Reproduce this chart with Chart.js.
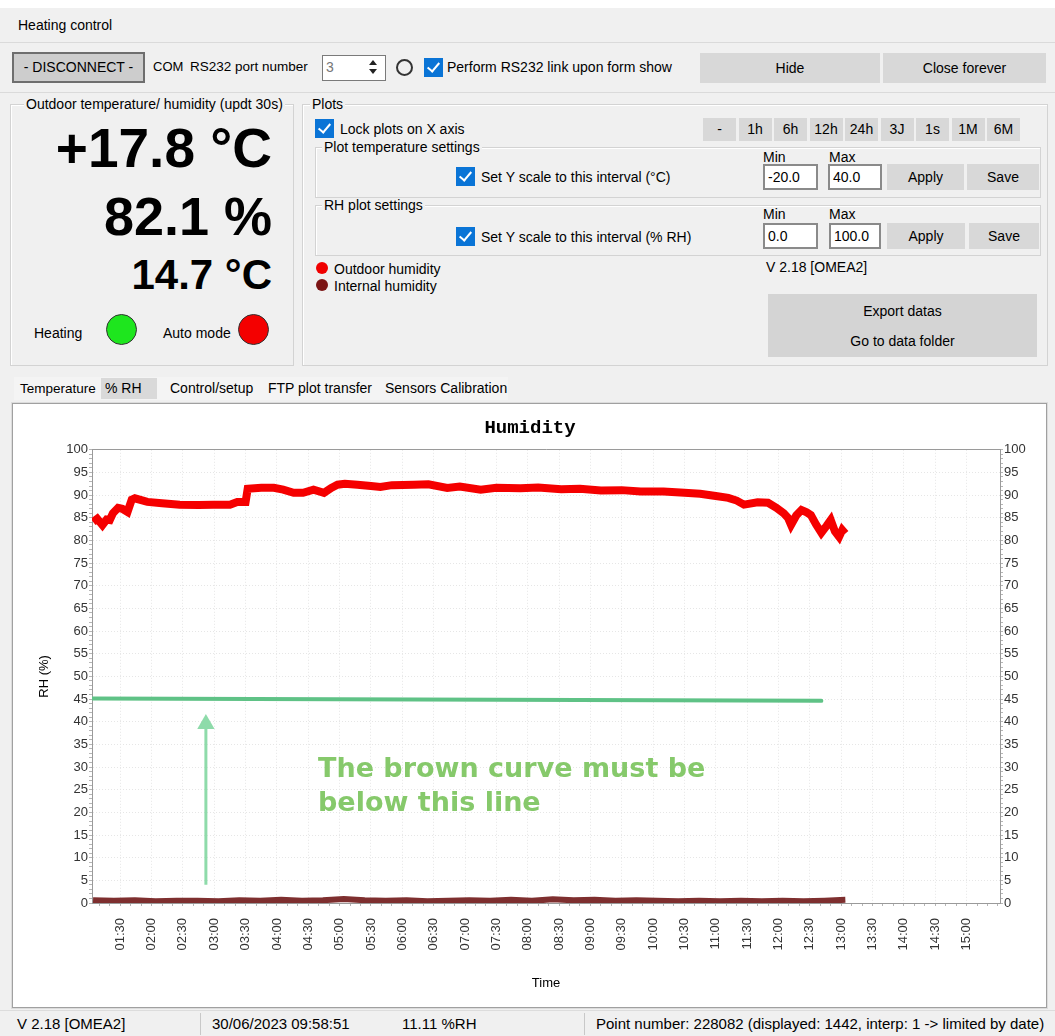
<!DOCTYPE html>
<html>
<head>
<meta charset="utf-8">
<title>Heating control</title>
<script src="https://cdn.jsdelivr.net/npm/chart.js@4.4.1/dist/chart.umd.min.js"></script>
<style>
  html, body { margin: 0; padding: 0; }
  body { background: #f0f0f0; font-family: 'Liberation Sans', Arial, sans-serif; font-size: 14px; color: #000; }
  #app { position: relative; width: 1055px; height: 1036px; overflow: hidden; }
  .abs { position: absolute; white-space: nowrap; }
  .lbl { position: absolute; white-space: nowrap; line-height: 16px; }
  .btn { position: absolute; background: #d8d8d8; text-align: center; }
  .grp { position: absolute; border: 1px solid #d3d3d3; box-shadow: inset 1px 1px 0 #fff; }
  .grp-title { position: absolute; background: #f0f0f0; padding: 0 2px; line-height: 14px; white-space: nowrap; }
  .chk { position: absolute; width: 19px; height: 19px; background: #0a74d6; }
  .chk::after { content: ''; position: absolute; left: 6px; top: 2px; width: 5px; height: 10px;
                border-right: 2px solid #fff; border-bottom: 2px solid #fff; transform: rotate(40deg); }
  .inp { position: absolute; background: #fff; border: 2px solid #8a8a8a; box-sizing: border-box; padding-left: 3px; line-height: 22px; }
  .big { position: absolute; left: 10px; width: 262px; text-align: right; font-weight: bold; line-height: 1; }
  .dot { position: absolute; border-radius: 50%; }
  .tab { position: absolute; top: 378px; height: 21px; line-height: 21px; padding: 0 4px; }
  #chartBox { position: absolute; left: 12px; top: 403px; width: 1033px; height: 603px; background: #fff;
              border: 1px solid #a0a0a0; box-shadow: 0 0 0 1px #dcdcdc; }
  #chartCanvas { position: absolute; left: 1px; top: 1px; }
  .note { position: absolute; left: 318px; top: 751px; font-family: 'DejaVu Sans', Verdana, sans-serif;
          font-weight: bold; font-size: 27px; line-height: 34px; color: #86c96b; }
  .status { position: absolute; top: 1015px; font-size: 15px; line-height: 18px; white-space: nowrap; }
</style>
</head>
<body>
<div id="app">
  <!-- window header -->
  <div class="abs" style="left:0;top:0;width:1055px;height:8px;background:#fff;"></div>
  <div class="lbl" style="left:18px;top:17px;">Heating control</div>
  <div class="abs" style="left:0;top:42px;width:1055px;height:1px;background:#dadada;"></div>

  <!-- toolbar -->
  <div class="btn" style="left:12px;top:52px;width:129px;height:27px;line-height:27px;background:#cdcdcd;border:2px solid #6e6e6e;">- DISCONNECT -</div>
  <div class="lbl" style="left:153px;top:59px;font-size:13px;">COM</div>
  <div class="lbl" style="left:190px;top:59px;font-size:13.5px;">RS232 port number</div>
  <div class="inp" style="left:322px;top:55px;width:64px;height:26px;border-width:1px;border-color:#7a7a7a;color:#777;">3</div>
  <div class="abs" style="left:369px;top:60px;width:0;height:0;border-left:4px solid transparent;border-right:4px solid transparent;border-bottom:5px solid #222;"></div>
  <div class="abs" style="left:369px;top:69px;width:0;height:0;border-left:4px solid transparent;border-right:4px solid transparent;border-top:5px solid #222;"></div>
  <div class="abs" style="left:396px;top:59px;width:13px;height:13px;border:2px solid #333;border-radius:50%;"></div>
  <div class="chk" style="left:424px;top:58px;"></div>
  <div class="lbl" style="left:447px;top:59px;">Perform RS232 link upon form show</div>
  <div class="btn" style="left:700px;top:53px;width:180px;height:30px;line-height:30px;">Hide</div>
  <div class="btn" style="left:883px;top:53px;width:163px;height:30px;line-height:30px;">Close forever</div>
  <div class="abs" style="left:0;top:92px;width:1055px;height:1px;background:#dadada;"></div>

  <!-- outdoor group -->
  <div class="grp" style="left:10px;top:104px;width:282px;height:260px;"></div>
  <div class="grp-title" style="left:24px;top:97px;">Outdoor temperature/ humidity (updt 30s)</div>
  <div class="big" style="top:121px;font-size:55px;">+17.8 °C</div>
  <div class="big" style="top:189px;font-size:54px;">82.1 %</div>
  <div class="big" style="top:254px;font-size:42px;">14.7 °C</div>
  <div class="lbl" style="left:34px;top:325px;">Heating</div>
  <div class="dot" style="left:106px;top:314px;width:29px;height:29px;background:#1ee61e;border:1px solid #333;"></div>
  <div class="lbl" style="left:163px;top:325px;">Auto mode</div>
  <div class="dot" style="left:238px;top:314px;width:29px;height:29px;background:#f40000;border:1px solid #333;"></div>

  <!-- plots group -->
  <div class="grp" style="left:302px;top:104px;width:744px;height:260px;"></div>
  <div class="grp-title" style="left:310px;top:97px;">Plots</div>
  <div class="chk" style="left:315px;top:119px;"></div>
  <div class="lbl" style="left:340px;top:121px;">Lock plots on X axis</div>
  <div id="rangeButtons"></div>

  <div class="grp" style="left:315px;top:147px;width:724px;height:49px;"></div>
  <div class="grp-title" style="left:322px;top:140px;">Plot temperature settings</div>
  <div class="lbl" style="left:763px;top:149px;">Min</div>
  <div class="lbl" style="left:829px;top:149px;">Max</div>
  <div class="chk" style="left:456px;top:167px;"></div>
  <div class="lbl" style="left:481px;top:169px;">Set Y scale to this interval (°C)</div>
  <div class="inp" style="left:763px;top:164px;width:55px;height:26px;">-20.0</div>
  <div class="inp" style="left:828px;top:164px;width:54px;height:26px;">40.0</div>
  <div class="btn" style="left:887px;top:164px;width:77px;height:26px;line-height:26px;">Apply</div>
  <div class="btn" style="left:967px;top:164px;width:72px;height:26px;line-height:26px;">Save</div>

  <div class="grp" style="left:315px;top:205px;width:724px;height:49px;"></div>
  <div class="grp-title" style="left:322px;top:198px;">RH plot settings</div>
  <div class="lbl" style="left:763px;top:206px;">Min</div>
  <div class="lbl" style="left:829px;top:206px;">Max</div>
  <div class="chk" style="left:456px;top:227px;"></div>
  <div class="lbl" style="left:481px;top:229px;">Set Y scale to this interval (% RH)</div>
  <div class="inp" style="left:763px;top:223px;width:55px;height:26px;">0.0</div>
  <div class="inp" style="left:829px;top:223px;width:52px;height:26px;">100.0</div>
  <div class="btn" style="left:887px;top:223px;width:78px;height:26px;line-height:26px;">Apply</div>
  <div class="btn" style="left:969px;top:223px;width:70px;height:26px;line-height:26px;">Save</div>

  <div class="dot" style="left:316px;top:262px;width:12px;height:12px;background:#f00000;"></div>
  <div class="lbl" style="left:334px;top:261px;">Outdoor humidity</div>
  <div class="dot" style="left:316px;top:279px;width:12px;height:12px;background:#7b1414;"></div>
  <div class="lbl" style="left:334px;top:278px;">Internal humidity</div>
  <div class="lbl" style="left:766px;top:259px;">V 2.18 [OMEA2]</div>
  <div class="btn" style="left:768px;top:294px;width:269px;height:63px;background:#d4d4d4;">
    <div style="position:absolute;left:0;width:100%;top:9px;">Export datas</div>
    <div style="position:absolute;left:0;width:100%;top:39px;">Go to data folder</div>
  </div>

  <!-- tabs -->
  <div class="abs" style="left:14px;top:377px;width:494px;height:23px;background:#f4f4f4;"></div>
  <div class="tab" style="left:16px;font-size:13.5px;">Temperature</div>
  <div class="tab" style="left:101px;width:48px;background:#d9d9d9;">% RH</div>
  <div class="tab" style="left:166px;">Control/setup</div>
  <div class="tab" style="left:264px;">FTP plot transfer</div>
  <div class="tab" style="left:381px;">Sensors Calibration</div>

  <!-- chart -->
  <div id="chartBox"><canvas id="chartCanvas" width="1032" height="602"></canvas></div>
  <div class="note">The brown curve must be<br>below this line</div>

  <!-- status bar -->
  <div class="abs" style="left:0;top:1010px;width:1055px;height:1px;background:#dcdcdc;"></div>
  <div class="abs" style="left:200px;top:1013px;width:1px;height:22px;background:#c8c8c8;"></div>
  <div class="abs" style="left:584px;top:1013px;width:1px;height:22px;background:#c8c8c8;"></div>
  <div class="status" style="left:17px;">V 2.18 [OMEA2]</div>
  <div class="status" style="left:212px;">30/06/2023 09:58:51</div>
  <div class="status" style="left:402px;">11.11 %RH</div>
  <div class="status" style="left:596px;">Point number: 228082 (displayed: 1442, interp: 1 -&gt; limited by date)</div>
</div>

<script>
// Boutons de plage de temps
const rangeLabels = ['-', '1h', '6h', '12h', '24h', '3J', '1s', '1M', '6M'];

// Humidité extérieure (courbe rouge)
const outdoorTimes = ['01:04','01:08','01:13','01:17','01:20','01:23','01:28','01:32','01:37','01:41',
  '01:44','01:56','02:10','02:27','02:45','02:59','03:15','03:22','03:30','03:32',
  '03:45','03:57','04:06','04:16','04:25','04:35','04:45','04:52','04:58','05:05',
  '05:17','05:30','05:39','05:50','06:11','06:25','06:43','06:55','07:15','07:30',
  '07:53','08:10','08:32','08:50','09:10','09:30','09:48','10:10','10:30','10:45',
  '11:00','11:12','11:20','11:27','11:40','11:50','11:58','12:05','12:09','12:12',
  '12:17','12:22','12:27','12:31','12:36','12:41','12:46','12:50','12:54','12:58',
  '13:01','13:04'];
const outdoorRH = [84.1, 84.8, 83.4, 84.6, 84.5, 86.0, 87.2, 87.0, 86.3, 89.0,
  89.3, 88.5, 88.2, 87.9, 87.8, 87.9, 87.9, 88.5, 88.5, 91.4,
  91.6, 91.6, 91.2, 90.5, 90.5, 91.2, 90.5, 91.6, 92.3, 92.5,
  92.3, 92.0, 91.8, 92.2, 92.3, 92.4, 91.6, 91.9, 91.2, 91.6,
  91.5, 91.7, 91.3, 91.4, 91.0, 91.1, 90.8, 90.8, 90.5, 90.3,
  89.8, 89.4, 88.8, 87.9, 88.4, 88.3, 87.2, 86.0, 85.0, 83.4,
  85.5, 86.7, 86.2, 85.6, 83.5, 81.7, 83.2, 84.5, 82.0, 80.8,
  82.3, 81.5];

// Humidité interne (courbe marron)
const internalTimes = ['01:04','01:24','01:44','02:04','02:24','02:44','03:04','03:24','03:44','04:04',
  '04:24','04:44','05:04','05:24','05:44','06:04','06:24','06:44','07:04','07:24',
  '07:44','08:04','08:24','08:44','09:04','09:24','09:44','10:04','10:24','10:44',
  '11:04','11:24','11:44','12:04','12:24','12:44','13:04'];
const internalRH = [0.6, 0.5, 0.6, 0.4, 0.5, 0.5, 0.4, 0.6, 0.5, 0.7,
  0.5, 0.6, 0.9, 0.6, 0.5, 0.6, 0.4, 0.5, 0.6, 0.5,
  0.7, 0.5, 0.8, 0.6, 0.7, 0.5, 0.6, 0.5, 0.4, 0.5,
  0.4, 0.5, 0.4, 0.5, 0.4, 0.5, 0.7];

// Ligne limite verte et flèche ajoutées sur la capture
const limitTimes = ['01:04', '12:41'];
const limitRH = [45.1, 44.6];
const arrowTimes = ['02:52', '02:52'];
const arrowRH = [4, 39.5];

// Axes
const timeMin = '01:03';
const timeMax = '15:32';
const timeStep = 30;
const rhMin = 0;
const rhMax = 100;
const rhStep = 5;

/**
 * Convertit "HH:MM" en minutes
 */
function toMinutes(t) {
  const parts = t.split(':');
  return parseInt(parts[0], 10) * 60 + parseInt(parts[1], 10);
}

/**
 * Formate des minutes en "HH:MM"
 */
function formatTime(v) {
  const h = Math.floor(v / 60);
  const m = Math.round(v % 60);
  return String(h).padStart(2, '0') + ':' + String(m).padStart(2, '0');
}

function toPoints(times, values) {
  return times.map((t, i) => ({ x: toMinutes(t), y: values[i] }));
}

// Boutons de plage
(function buildRangeButtons() {
  const host = document.getElementById('rangeButtons');
  rangeLabels.forEach((label, i) => {
    const b = document.createElement('div');
    b.className = 'btn';
    b.style.cssText = 'left:' + (703 + i * 35.5) + 'px;top:118px;width:33px;height:23px;line-height:23px;';
    b.textContent = label;
    host.appendChild(b);
  });
})();

const xMin = toMinutes(timeMin);
const xMax = toMinutes(timeMax);
const tickFont = { family: "'Liberation Sans', Arial, sans-serif", size: 13 };
const dotted = { display: true, color: '#9a9a9a', width: 1, dash: [1, 2] };
const noBorder = { display: false };

/**
 * Eje auxiliar solo para las marcas menores
 */
function minorAxis(position, axis, min, max, step) {
  return {
    type: 'linear', position: position, axis: axis, min: min, max: max, weight: 0,
    border: noBorder,
    grid: { drawOnChartArea: false, drawTicks: true, tickLength: 3, tickColor: '#b5b5b5' },
    ticks: { display: false, stepSize: step, includeBounds: false },
    afterFit: function(scale) {
      if (scale.isHorizontal()) { scale.height = 0; } else { scale.width = 0; }
    }
  };
}

const ctx = document.getElementById('chartCanvas').getContext('2d');
window.humidityChart = new Chart(ctx, {
  type: 'line',
  data: {
    datasets: [
      {
        label: 'Internal humidity',
        data: toPoints(internalTimes, internalRH),
        borderColor: '#7e2f2f',
        borderWidth: 6,
        pointRadius: 0,
        xAxisID: 'x', yAxisID: 'y'
      },
      {
        label: 'Outdoor humidity',
        data: toPoints(outdoorTimes, outdoorRH),
        borderColor: '#f50000',
        borderWidth: 8,
        pointRadius: 0,
        xAxisID: 'x', yAxisID: 'y'
      },
      {
        label: 'Limit',
        data: toPoints(limitTimes, limitRH),
        borderColor: '#5fc286',
        borderWidth: 4,
        borderCapStyle: 'round',
        pointRadius: 0,
        xAxisID: 'x', yAxisID: 'y'
      },
      {
        label: 'Arrow',
        data: toPoints(arrowTimes, arrowRH),
        borderColor: '#8edbaa',
        backgroundColor: '#8edbaa',
        borderWidth: 3,
        pointRadius: [0, 10],
        pointStyle: 'triangle',
        pointBorderWidth: 0,
        xAxisID: 'x', yAxisID: 'y'
      }
    ]
  },
  options: {
    responsive: false,
    animation: false,
    layout: { padding: 0 },
    plugins: {
      legend: { display: false },
      tooltip: { enabled: false },
      title: {
        display: true,
        text: 'Humidity',
        fullSize: true,
        color: '#000',
        font: { family: "'Liberation Mono', 'Courier New', monospace", size: 19, weight: 'bold' },
        padding: { top: 12, bottom: 10 }
      }
    },
    scales: {
      x: {
        type: 'linear', position: 'bottom', min: xMin, max: xMax, weight: 1,
        border: dotted,
        grid: { color: '#e6e6e6', drawTicks: true, tickLength: 6, tickColor: 'rgba(0,0,0,0)' },
        ticks: {
          stepSize: timeStep, includeBounds: false, autoSkip: false,
          maxRotation: 90, minRotation: 90, padding: 9, color: '#333', font: tickFont,
          callback: function(value) { return value > xMax - 5 ? null : formatTime(value); }
        },
        title: { display: true, text: 'Time', color: '#000', font: tickFont, padding: { top: 0, bottom: 16 } },
        afterFit: function(scale) { scale.height = 104; }
      },
      xMinor: minorAxis('bottom', 'x', xMin, xMax, 10),
      xTop: {
        type: 'linear', position: 'top', axis: 'x', min: xMin, max: xMax,
        border: dotted,
        grid: { display: false },
        ticks: { display: false },
        afterFit: function(scale) { scale.height = 0; }
      },
      y: {
        type: 'linear', position: 'left', min: rhMin, max: rhMax, weight: 1,
        border: dotted,
        grid: { color: '#e6e6e6', tickLength: 3, tickColor: '#9a9a9a' },
        ticks: { stepSize: rhStep, padding: 1, color: '#333', font: tickFont },
        title: { display: true, text: 'RH (%)', color: '#000', font: tickFont, padding: { top: 23, bottom: 0 } },
        afterFit: function(scale) { scale.width = 78; }
      },
      yMinorL: minorAxis('left', 'y', rhMin, rhMax, 1),
      yRight: {
        type: 'linear', position: 'right', min: rhMin, max: rhMax, weight: 1,
        border: dotted,
        grid: { drawOnChartArea: false, tickLength: 3, tickColor: '#9a9a9a' },
        ticks: { stepSize: rhStep, padding: 1, color: '#333', font: tickFont },
        afterFit: function(scale) { scale.width = 46; }
      },
      yMinorR: minorAxis('right', 'y', rhMin, rhMax, 1)
    }
  }
});
</script>
</body>
</html>
